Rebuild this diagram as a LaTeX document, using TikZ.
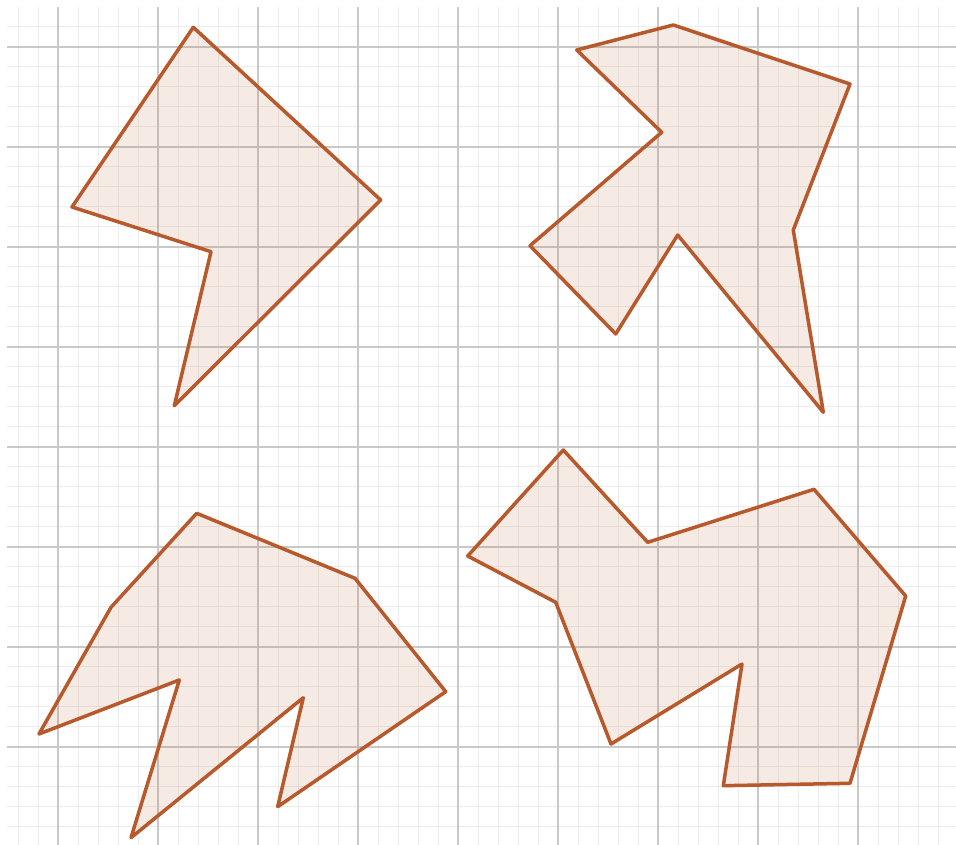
\documentclass[tikz,border=0pt]{standalone}
\begin{document}
\begin{tikzpicture}[x=1pt,y=-1pt,
  minorline/.style={draw=black!7,line width=1.5pt},
  majorline/.style={draw=black!21,line width=2pt},
  poly/.style={draw=polyc,fill=polyc,fill opacity=0.12,line width=3.5pt,line join=round}]
\definecolor{polyc}{HTML}{B8592C}
\useasboundingbox (0,0) rectangle (956,845);
\fill[white] (0,0) rectangle (956,845);
\begin{scope}
\clip (7,8) rectangle (956,845);
\foreach \i in {0,...,47} {\draw[minorline] (18.3+20*\i,0) -- (18.3+20*\i,845);}
\foreach \i in {0,...,42} {\draw[minorline] (0,6.7+20*\i) -- (956,6.7+20*\i);}
\foreach \i in {0,...,9} {\draw[majorline] (58.3+100*\i,0) -- (58.3+100*\i,845);}
\foreach \i in {0,...,8} {\draw[majorline] (0,46.7+100*\i) -- (956,46.7+100*\i);}
\end{scope}
% top-left
\draw[poly] (193.3,27.3) -- (380.7,200) -- (174.3,405.7) -- (211,251.7) -- (72,207) -- cycle;
% top-right
\draw[poly] (576.7,50) -- (673.3,25) -- (850,84) -- (793.3,230) -- (823.3,412.3) -- (677.7,235) -- (615.7,334) -- (530,245.7) -- (661.7,132.3) -- cycle;
% bottom-left
\draw[poly] (196.7,513.3) -- (355,578.3) -- (445.7,691.7) -- (277.7,806.7) -- (303.3,697.7) -- (131,837.7) -- (179.3,680) -- (39,734) -- (111,607.3) -- cycle;
% bottom-right
\draw[poly] (563.3,450) -- (647.7,542.3) -- (814,489.3) -- (905.7,596) -- (850,783.3) -- (723.3,785.7) -- (742,664) -- (611,744) -- (555.7,602.3) -- (467.7,556) -- cycle;
\end{tikzpicture}
\end{document}
